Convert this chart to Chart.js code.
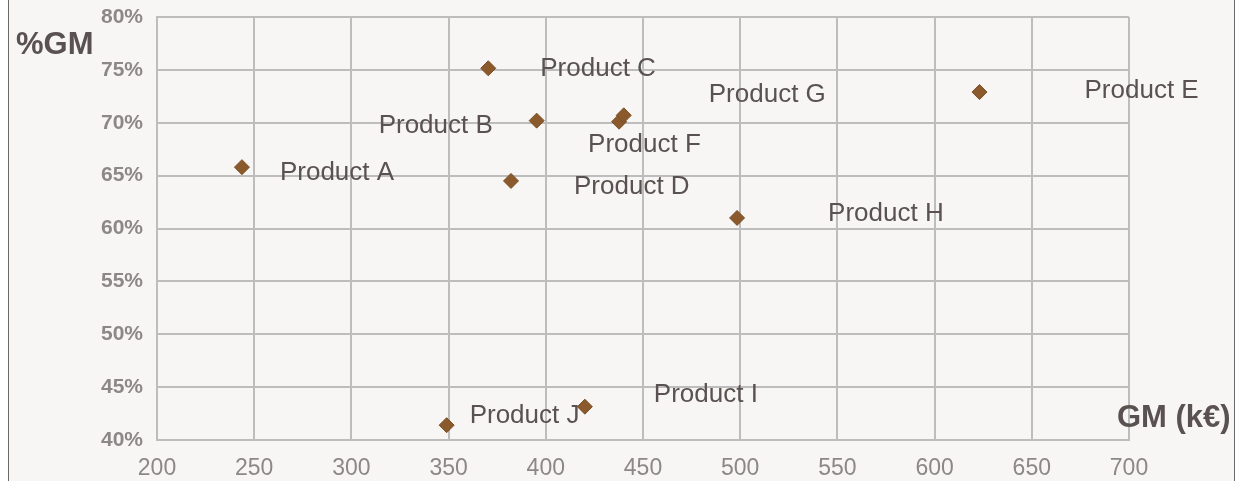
<!DOCTYPE html>
<html lang="en">
<head>
  <meta charset="UTF-8">
  <title>GM vs %GM by product</title>
  <script src="https://cdn.jsdelivr.net/npm/chart.js"></script>
  <style>
    body { margin: 0; background: #fff; }
    canvas { display: block; }
  </style>
</head>
<body>
  <canvas id="myChart" width="1249" height="481"></canvas>

  <script>
    // values
    var products = ['Product A', 'Product B', 'Product C', 'Product D', 'Product E',
                    'Product F', 'Product G', 'Product H', 'Product I', 'Product J'];
    var gm    = [243.7, 395.3, 370.4, 382.1, 623.1, 437.7, 440.1, 498.4, 420.1, 349.0];
    var gmPct = [65.8, 70.2, 75.15, 64.5, 72.9, 70.1, 70.7, 61.0, 43.15, 41.4];
    var xTicks = [200, 250, 300, 350, 400, 450, 500, 550, 600, 650, 700];
    var yTicks = [40, 45, 50, 55, 60, 65, 70, 75, 80];

    // label nudges in px (text left, baseline) from each marker, like the hand-placed excel labels
    var labelOffsets = [[38, 13], [-158, 12], [52, 8], [63, 13], [105, 6],
                        [-31, 30], [85, -13], [91, 3], [69, -5], [23, -2]];

    var FONT = '"Liberation Sans", Arial, sans-serif';
    var gridColor = '#bdbdbd';

    // panel background and the thin frame lines at the sides
    var panelPlugin = {
      id: 'panel',
      beforeDraw: function (chart) {
        var ctx = chart.ctx;
        ctx.save();
        ctx.fillStyle = '#ffffff';
        ctx.fillRect(0, 0, chart.width, chart.height);
        ctx.fillStyle = '#f7f6f4';
        ctx.fillRect(9, 0, 1225, chart.height);
        ctx.strokeStyle = '#6a6a6a';
        ctx.lineWidth = 1;
        ctx.beginPath();
        ctx.moveTo(8.5, 0); ctx.lineTo(8.5, chart.height);
        ctx.moveTo(1234.5, 0); ctx.lineTo(1234.5, chart.height);
        ctx.stroke();
        ctx.restore();
      }
    };

    // product labels and the two axis titles
    var textPlugin = {
      id: 'texts',
      afterDatasetsDraw: function (chart) {
        var ctx = chart.ctx;
        var meta = chart.getDatasetMeta(0);
        ctx.save();
        ctx.fillStyle = '#595250';
        ctx.textAlign = 'left';
        ctx.textBaseline = 'alphabetic';
        ctx.font = '26px ' + FONT;
        meta.data.forEach(function (pt, i) {
          ctx.fillText(products[i], pt.x + labelOffsets[i][0], pt.y + labelOffsets[i][1]);
        });
        ctx.font = 'bold 31px ' + FONT;
        ctx.fillText('%GM', 16, 54);
        ctx.fillText('GM (k\u20ac)', chart.chartArea.right - 12, 427);
        ctx.restore();
      }
    };

    function createChart() {
      var ctx = document.getElementById('myChart').getContext('2d');

      var points = gm.map(function (x, i) { return { x: x, y: gmPct[i] }; });

      new Chart(ctx, {
        type: 'scatter',
        data: {
          datasets: [{
            label: '%GM',
            data: points,
            pointStyle: 'rectRot',
            pointRadius: 7.5,
            pointHoverRadius: 7.5,
            backgroundColor: '#8a5a2c',
            borderColor: '#7b4f26',
            borderWidth: 1
          }]
        },
        options: {
          responsive: false,
          animation: false,
          events: [],
          layout: { padding: { top: 17, right: 120, left: 0, bottom: 0 } },
          plugins: {
            legend: { display: false },
            tooltip: { enabled: false }
          },
          scales: {
            x: {
              type: 'linear',
              min: 200,
              max: 700,
              afterBuildTicks: function (s) { s.ticks = xTicks.map(function (v) { return { value: v }; }); },
              afterFit: function (s) { s.height = 41; },
              grid: { color: gridColor, lineWidth: 2, drawTicks: false },
              border: { color: gridColor, width: 2 },
              ticks: {
                padding: 15,
                color: '#8c8888',
                font: { family: FONT, size: 23 },
                maxRotation: 0
              }
            },
            y: {
              type: 'linear',
              min: 40,
              max: 80,
              afterBuildTicks: function (s) { s.ticks = yTicks.map(function (v) { return { value: v }; }); },
              // tick padding would otherwise push the plot top down; layout padding handles it
              afterFit: function (s) { s.width = 157; s.paddingTop = 0; },
              grid: { color: gridColor, lineWidth: 2, drawTicks: false },
              border: { color: gridColor, width: 2 },
              ticks: {
                padding: 14,
                color: '#8c8888',
                font: { family: FONT, size: 21, weight: 'bold' },
                callback: function (v) { return v + '%'; }
              }
            }
          }
        },
        plugins: [panelPlugin, textPlugin]
      });
    }

    createChart();
  </script>
</body>
</html>
